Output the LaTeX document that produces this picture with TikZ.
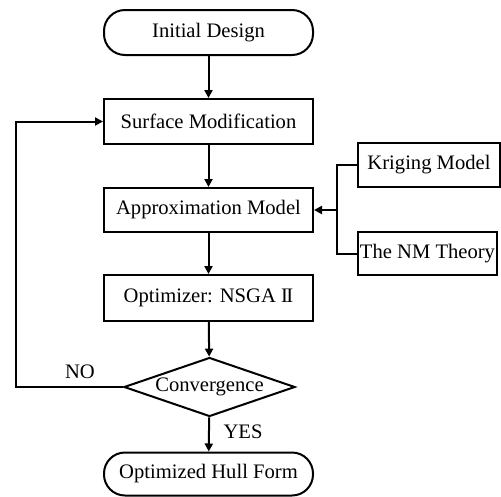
\documentclass[tikz,border=0pt]{standalone}
\usepackage{fontspec}
\setmainfont{Liberation Serif}
\usetikzlibrary{arrows.meta,shapes.geometric}
\begin{document}
\begin{tikzpicture}[x=1pt,y=-1pt,
  every node/.style={font=\fontsize{20.6}{22}\selectfont, inner sep=0pt},
  boxn/.style={draw, line width=2pt, minimum width=209pt, minimum height=45pt},
  sidebox/.style={draw, line width=2pt, minimum height=44pt},
  term/.style={draw, line width=2pt, rounded corners=21pt, minimum width=209pt, minimum height=45pt},
  dec/.style={draw, line width=2pt, diamond, aspect=2.9, minimum width=171pt, minimum height=59pt},
  arr/.style={line width=2pt, -{Triangle[length=8pt,width=8pt]}},
  ln/.style={line width=2pt}
]
\useasboundingbox (0,0) rectangle (501,496);
\node[term] (init) at (208.5,32.5) {Initial Design};
\node[boxn] (surf) at (208.5,121.5) {Surface Modification};
\node[boxn, minimum height=44pt] (approx) at (208.5,210) {Approximation Model};
\node[boxn, minimum height=46pt] (opt) at (208.5,298) {Optimizer: NSGA \mbox{I\kern-0.07em I}};
\node[dec] (conv) at (209.5,387) {Convergence};
\node[term, minimum height=43pt] (final) at (208.5,474) {Optimized Hull Form};
\node[sidebox, minimum width=142pt] (krig) at (429,165) {Kriging Model};
\node[sidebox, minimum width=139pt, minimum height=43pt] (nm) at (427.5,253.5) {The NM Theory};
\coordinate (lp) at (16,387);
\coordinate (bx) at (337,210);
\draw[arr] (init) -- (surf);
\draw[arr] (surf) -- (approx);
\draw[arr] (approx) -- (opt);
\draw[arr] (opt) -- (conv);
\draw[arr] (conv) -- (final);
\draw[arr] (conv.west) -- (lp) |- (surf.west);
\draw[ln] (krig.west) -| (bx) |- (nm.west);
\draw[arr] (bx) -- (approx.east);
\node (no) at (80,372) {NO};
\node (yes) at (243,432) {YES};
\end{tikzpicture}
\end{document}
